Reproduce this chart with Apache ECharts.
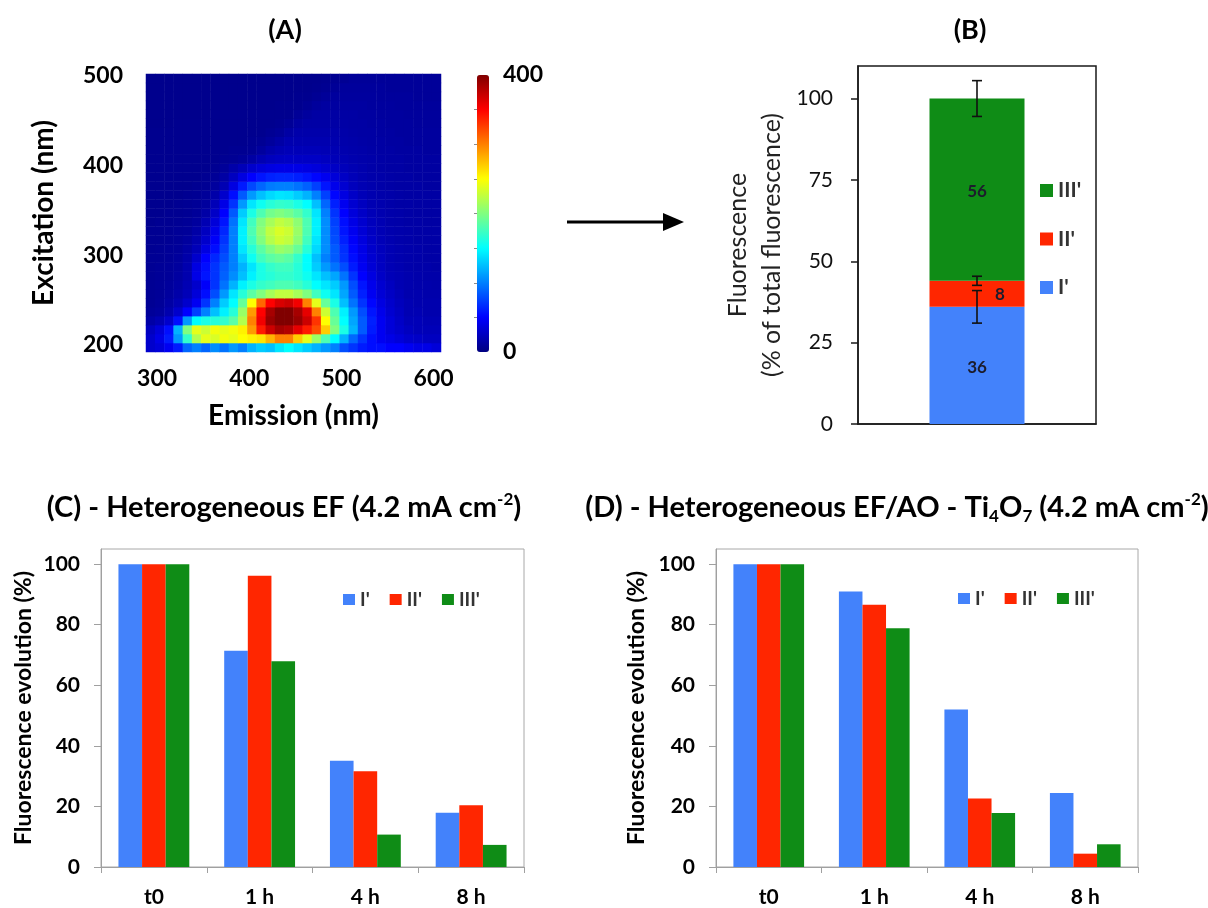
<!DOCTYPE html>
<html><head><meta charset="utf-8">
<script src="https://cdn.jsdelivr.net/npm/echarts@6/dist/echarts.min.js"></script>
<style>html,body{margin:0;padding:0;background:#fff}#c{width:1208px;height:908px}</style>
</head><body><div id="c"></div>
<script>
// ---------- Panel A : EEM (emission columns x excitation rows) ----------
const emission = [293,303,313,323,333,343,353,363,373,383,393,403,413,423,433,443,453,463,473,483,493,503,513,523,533,543,553,563,573,583,593,603];
const excitation = [197,207,217,227,237,247,257,267,277,287,297,307,317,327,337,347,357,367,377,387,397,407,417,427,437,447,457,467,477,487,497];
const eemRows = [
[30,35,45,60,90,100,90,105,95,110,100,120,130,125,140,150,140,130,120,110,100,80,70,60,55,55,50,50,45,40,40,35],
[30,40,60,110,170,220,240,235,245,240,250,255,260,280,300,300,270,240,210,180,150,120,90,70,55,45,40,35,30,28,25,25],
[25,35,55,120,200,240,230,245,240,245,255,290,340,370,385,380,360,340,320,270,200,160,120,85,60,45,35,30,25,22,22,22],
[15,20,30,55,110,150,160,165,170,185,220,300,355,390,400,400,390,370,330,250,190,150,115,85,62,45,35,28,22,22,20,20],
[10,12,18,30,50,75,100,125,145,165,210,290,350,385,400,400,385,360,300,230,180,145,110,80,58,42,32,26,20,20,18,18],
[8,10,14,20,30,45,70,100,130,150,190,250,310,350,365,370,355,300,240,190,160,125,95,70,52,38,30,24,20,18,18,18],
[8,9,12,16,22,35,55,80,110,140,165,185,200,215,225,225,215,200,175,155,140,115,85,62,45,34,27,22,18,18,17,17],
[8,9,11,14,20,30,48,70,95,120,145,160,170,175,180,180,175,165,150,140,130,110,80,58,42,32,25,20,18,17,17,16],
[8,9,10,13,18,40,58,70,88,105,125,145,160,165,170,170,165,155,140,125,115,95,70,50,38,28,22,20,18,17,16,16],
[8,9,10,12,18,38,55,70,85,100,120,140,160,170,175,175,165,150,130,110,95,80,60,45,34,26,21,19,17,16,16,15],
[8,8,9,11,16,30,50,65,80,100,130,155,175,185,190,185,170,150,125,100,85,70,55,42,32,25,20,18,17,16,15,15],
[7,8,9,10,14,22,38,55,75,100,140,165,185,200,210,205,190,165,135,105,85,68,52,40,30,24,20,18,17,16,15,15],
[7,7,8,9,12,18,30,48,70,100,145,175,200,220,230,225,205,175,140,105,80,62,48,37,28,22,19,17,16,15,15,15],
[7,7,8,9,10,15,25,42,65,100,145,180,205,225,235,230,210,180,145,105,78,58,44,34,26,21,18,17,16,15,15,15],
[6,7,7,8,9,12,20,35,58,95,140,175,200,215,225,220,205,180,145,105,75,55,40,31,24,20,17,16,15,15,14,14],
[6,6,7,7,8,10,15,28,50,85,130,160,180,195,200,195,185,170,140,100,70,50,36,28,22,19,17,16,15,14,14,14],
[6,6,6,7,8,9,12,22,40,70,110,140,155,165,170,168,160,150,125,90,62,44,32,25,20,18,16,15,15,14,14,14],
[6,6,6,6,7,8,10,16,30,55,85,110,125,135,140,138,130,120,100,75,52,38,28,22,19,17,16,15,14,14,14,14],
[6,6,6,6,6,7,8,12,20,38,60,78,90,98,100,100,95,88,75,58,42,32,24,20,18,16,15,14,14,14,13,13],
[6,6,6,6,6,6,7,9,14,25,38,50,58,63,65,65,62,58,52,44,35,27,22,19,17,16,15,14,14,13,13,13],
[6,6,6,6,6,6,6,7,10,16,22,30,35,38,40,40,40,38,36,32,27,23,20,18,16,15,14,14,13,13,13,13],
[6,6,6,6,6,6,6,6,7,8,10,14,20,24,26,27,27,27,27,25,22,20,18,17,16,15,14,14,13,13,13,13],
[6,6,6,6,6,6,6,6,6,7,7,8,12,17,20,22,22,22,22,21,20,18,17,16,15,14,14,13,13,13,12,12],
[6,6,6,6,6,6,6,6,6,6,6,7,8,11,15,19,19,19,19,19,18,17,16,15,14,14,13,13,12,12,12,12],
[6,6,6,6,6,6,6,6,6,6,6,6,6,8,10,14,17,17,17,17,17,16,15,14,14,13,13,12,12,12,12,12],
[5,5,5,6,6,6,6,6,6,6,6,6,6,6,7,9,13,15,15,15,15,15,14,14,13,13,12,12,12,11,11,11],
[5,5,5,5,5,5,5,6,6,6,6,6,6,6,6,6,9,12,14,14,14,14,14,13,13,12,12,12,11,11,11,11],
[5,5,5,5,5,5,5,5,5,5,5,5,5,5,6,6,6,8,11,13,13,13,13,13,12,12,12,11,11,11,11,11],
[5,5,5,5,5,5,5,5,5,5,5,5,5,5,5,5,6,6,8,10,12,12,12,12,12,11,11,11,11,10,10,10],
[5,5,5,5,5,5,5,5,5,5,5,5,5,5,5,5,5,5,6,7,9,11,11,11,11,11,10,10,10,10,10,10],
[5,5,5,5,5,5,5,5,5,5,5,5,5,5,5,5,5,5,5,6,7,8,10,10,10,10,10,10,10,10,10,10]
];
const emTicks = [300,400,500,600];
const exTicks = [200,300,400,500];
const cbarTicks = [0,400];

// ---------- Panel B ----------
const compNames = ["I'","II'","III'"];
const shareB = [36, 8, 56];
const shareErrB = [5, 1.4, 5.5];
const shareTicks = [0,25,50,75,100];

// ---------- Panels C & D ----------
const timeCats = ['t0','1 h','4 h','8 h'];
const efI   = [100, 71.4, 35.1, 17.9];
const efII  = [100, 96.2, 31.6, 20.4];
const efIII = [100, 67.9, 10.7, 7.3];
const aoI   = [100, 91.0, 52.0, 24.4];
const aoII  = [100, 86.6, 22.6, 4.4];
const aoIII = [100, 78.8, 17.8, 7.5];
const evoTicks = [0,20,40,60,80,100];

// ---------- build ----------
const FONT = 'Lato';
const cBlue = '#4382fb', cRed = '#ff2600', cGreen = '#0f8c16';
const colors = [cBlue, cRed, cGreen];

const heatData = [];
eemRows.forEach((row, r) => row.forEach((v, c) => heatData.push([c, r, v])));

let cum = 0;
const errData = shareB.map((v, i) => { cum += v; return [0, cum, shareErrB[i]]; });

const bold = (size, color) => ({fontFamily: FONT, fontWeight: 'bold', fontSize: size, color: color || '#000'});
const grayLine = {lineStyle: {color: '#a0a0a0', width: 1}};

function evoSeries(vals, xi) {
  return vals.map((d, i) => ({
    type: 'bar', name: compNames[i], xAxisIndex: xi, yAxisIndex: xi,
    data: d, barGap: '0%', barCategoryGap: '33%',
    itemStyle: {color: colors[i]}
  }));
}

const chart = echarts.init(document.getElementById('c'), null, {renderer: 'canvas'});
const option = {
  animation: false,
  textStyle: {fontFamily: FONT},
  grid: [
    {left: 146, top: 74, width: 295, height: 278},
    {left: 146, top: 74, width: 295, height: 278},
    {left: 477, top: 75, width: 12, height: 277},
    {left: 858, top: 66, width: 238, height: 358, show: true, borderColor: '#1a1a1a', borderWidth: 1.5},
    {left: 101, top: 549, width: 423, height: 319, show: true, borderColor: '#a8a8a8', borderWidth: 1},
    {left: 716, top: 549, width: 422, height: 319, show: true, borderColor: '#a8a8a8', borderWidth: 1}
  ],
  xAxis: [
    {type: 'category', gridIndex: 0, data: emission.map(String), show: false},
    {type: 'value', gridIndex: 1, min: 288, max: 608,
      axisLine: {show: false}, axisTick: {show: false}, splitLine: {show: false},
      axisLabel: Object.assign({customValues: emTicks, margin: 15}, bold(23)),
      name: 'Emission (nm)', nameLocation: 'middle', nameGap: 50, nameTextStyle: bold(28)},
    {type: 'value', gridIndex: 2, show: false, min: 0, max: 1},
    {type: 'category', gridIndex: 3, data: ['B'],
      axisLine: {lineStyle: {color: '#1a1a1a', width: 1.5}}, axisTick: {show: false}, axisLabel: {show: false}},
    {type: 'category', gridIndex: 4, data: timeCats, axisLine: grayLine,
      axisTick: {show: true, length: 6, lineStyle: {color: '#a0a0a0'}},
      axisLabel: Object.assign({margin: 20}, bold(21))},
    {type: 'category', gridIndex: 5, data: timeCats, axisLine: grayLine,
      axisTick: {show: true, length: 6, lineStyle: {color: '#a0a0a0'}},
      axisLabel: Object.assign({margin: 20}, bold(21))}
  ],
  yAxis: [
    {type: 'category', gridIndex: 0, data: excitation.map(String), show: false},
    {type: 'value', gridIndex: 1, min: 192, max: 502,
      axisLine: {show: false}, axisTick: {show: false}, splitLine: {show: false},
      axisLabel: Object.assign({customValues: exTicks, margin: 23}, bold(23)),
      name: 'Excitation (nm)', nameLocation: 'middle', nameRotate: 90, nameGap: 88, nameTextStyle: bold(28)},
    {type: 'value', gridIndex: 2, min: 0, max: 400, position: 'right',
      axisLine: {show: false}, splitLine: {show: false},
      axisTick: {show: true, inside: true, length: 3, customValues: [50,100,150,200,250,300,350], lineStyle: {color: 'rgba(0,0,0,0.45)'}},
      axisLabel: Object.assign({customValues: cbarTicks, margin: 14}, bold(23))},
    {type: 'value', gridIndex: 3, min: 0, max: 110,
      axisLine: {show: true, lineStyle: {color: '#1a1a1a', width: 1.5}}, splitLine: {show: false},
      axisTick: {show: true, length: 7, customValues: shareTicks, lineStyle: {color: '#1a1a1a', width: 1.5}},
      axisLabel: {customValues: shareTicks, margin: 25, fontFamily: FONT, fontSize: 21, color: '#111'},
      name: 'Fluorescence\n(% of total fluorescence)', nameLocation: 'middle', nameRotate: 90, nameGap: 69,
      nameTextStyle: {fontFamily: FONT, fontSize: 25, color: '#222', lineHeight: 34}},
    {type: 'value', gridIndex: 4, min: 0, max: 105,
      axisLine: Object.assign({show: true}, grayLine), splitLine: {show: false},
      axisTick: {show: true, length: 7, customValues: evoTicks, lineStyle: {color: '#a0a0a0'}},
      axisLabel: Object.assign({customValues: evoTicks, margin: 21}, bold(21)),
      name: 'Fluorescence evolution (%)', nameLocation: 'middle', nameRotate: 90, nameGap: 66, nameTextStyle: bold(23)},
    {type: 'value', gridIndex: 5, min: 0, max: 105,
      axisLine: Object.assign({show: true}, grayLine), splitLine: {show: false},
      axisTick: {show: true, length: 7, customValues: evoTicks, lineStyle: {color: '#a0a0a0'}},
      axisLabel: Object.assign({customValues: evoTicks, margin: 21}, bold(21)),
      name: 'Fluorescence evolution (%)', nameLocation: 'middle', nameRotate: 90, nameGap: 68, nameTextStyle: bold(23)}
  ],
  visualMap: {
    type: 'continuous', seriesIndex: 0, min: 0, max: 400,
    left: 477, top: 75, itemWidth: 12, itemHeight: 277, padding: 0,
    calculable: false, hoverLink: false,
    inRange: {color: ['#000080','#0000ff','#0080ff','#00ffff','#80ff80','#ffff00','#ff8000','#ff0000','#800000']}
  },
  legend: [
    {orient: 'vertical', left: 1040, top: 180, data: ["III'","II'","I'"], icon: 'rect',
      itemWidth: 13, itemHeight: 13, itemGap: 27.5, padding: 0,
      textStyle: Object.assign({lineHeight: 13}, bold(21, '#333'))},
    {orient: 'horizontal', left: 343, top: 590, data: compNames, icon: 'rect',
      itemWidth: 12, itemHeight: 11, itemGap: 20, padding: 0,
      textStyle: Object.assign({lineHeight: 11}, bold(19, '#333'))},
    {orient: 'horizontal', left: 958, top: 589, data: compNames, icon: 'rect',
      itemWidth: 12, itemHeight: 11, itemGap: 20, padding: 0,
      textStyle: Object.assign({lineHeight: 11}, bold(19, '#333'))}
  ],
  series: [
    {type: 'heatmap', xAxisIndex: 0, yAxisIndex: 0, data: heatData, progressive: 0, emphasis: {disabled: true}},
    ...shareB.map((v, i) => ({
      type: 'bar', name: compNames[i], stack: 'B', xAxisIndex: 3, yAxisIndex: 3,
      data: [v], barWidth: 95, itemStyle: {color: colors[i]},
      label: {show: true, position: 'inside', offset: i === 1 ? [23, 1] : [0, 2],
        fontFamily: FONT, fontWeight: 'bold', fontSize: 17, color: '#1c1c2c'}
    })),
    {type: 'custom', xAxisIndex: 3, yAxisIndex: 3, z: 10, data: errData,
      renderItem: (params, api) => {
        const x = api.value(0), y = api.value(1), e = api.value(2);
        const t = api.coord([x, y + e]), b = api.coord([x, y - e]);
        const hw = 5, st = {stroke: '#111', lineWidth: 1.6};
        return {type: 'group', children: [
          {type: 'line', shape: {x1: t[0], y1: t[1], x2: b[0], y2: b[1]}, style: st},
          {type: 'line', shape: {x1: t[0] - hw, y1: t[1], x2: t[0] + hw, y2: t[1]}, style: st},
          {type: 'line', shape: {x1: b[0] - hw, y1: b[1], x2: b[0] + hw, y2: b[1]}, style: st}
        ]};
      }},
    ...evoSeries([efI, efII, efIII], 4),
    ...evoSeries([aoI, aoII, aoIII], 5)
  ],
  graphic: [
    {type: 'text', x: 285, y: 30, style: {text: '(A)', font: 'bold 27px Lato', fill: '#000', align: 'center', verticalAlign: 'middle', textAlign: 'center', textVerticalAlign: 'middle'}},
    {type: 'text', x: 970, y: 30, style: {text: '(B)', font: 'bold 27px Lato', fill: '#000', align: 'center', verticalAlign: 'middle', textAlign: 'center', textVerticalAlign: 'middle'}},
    {type: 'line', shape: {x1: 567, y1: 222, x2: 668, y2: 222}, style: {stroke: '#000', lineWidth: 3}},
    {type: 'polygon', shape: {points: [[663, 213], [684, 222], [663, 231]]}, style: {fill: '#000'}},
    {type: 'text', x: 284, y: 508, style: {
      text: '{b|(C) - Heterogeneous EF (4.2 mA cm}{sup|-2}{b|)}',
      align: 'center', verticalAlign: 'middle', textAlign: 'center', textVerticalAlign: 'middle',
      rich: {
        b: {fontFamily: FONT, fontWeight: 'bold', fontSize: 29, lineHeight: 34, fill: '#000', color: '#000'},
        sup: {fontFamily: FONT, fontWeight: 'bold', fontSize: 17, lineHeight: 17, verticalAlign: 'top', fill: '#000', color: '#000'}
      }}},
    {type: 'text', x: 897, y: 508, style: {
      text: '{b|(D) - Heterogeneous EF/AO - Ti}{sub|4}{b|O}{sub|7}{b| (4.2 mA cm}{sup|-2}{b|)}',
      align: 'center', verticalAlign: 'middle', textAlign: 'center', textVerticalAlign: 'middle',
      rich: {
        b: {fontFamily: FONT, fontWeight: 'bold', fontSize: 29, lineHeight: 34, fill: '#000', color: '#000'},
        sup: {fontFamily: FONT, fontWeight: 'bold', fontSize: 17, lineHeight: 17, verticalAlign: 'top', fill: '#000', color: '#000'},
        sub: {fontFamily: FONT, fontWeight: 'bold', fontSize: 17, lineHeight: 15, verticalAlign: 'bottom', fill: '#000', color: '#000'}
      }}}
  ]
};
chart.setOption(option);
</script>
</body></html>
